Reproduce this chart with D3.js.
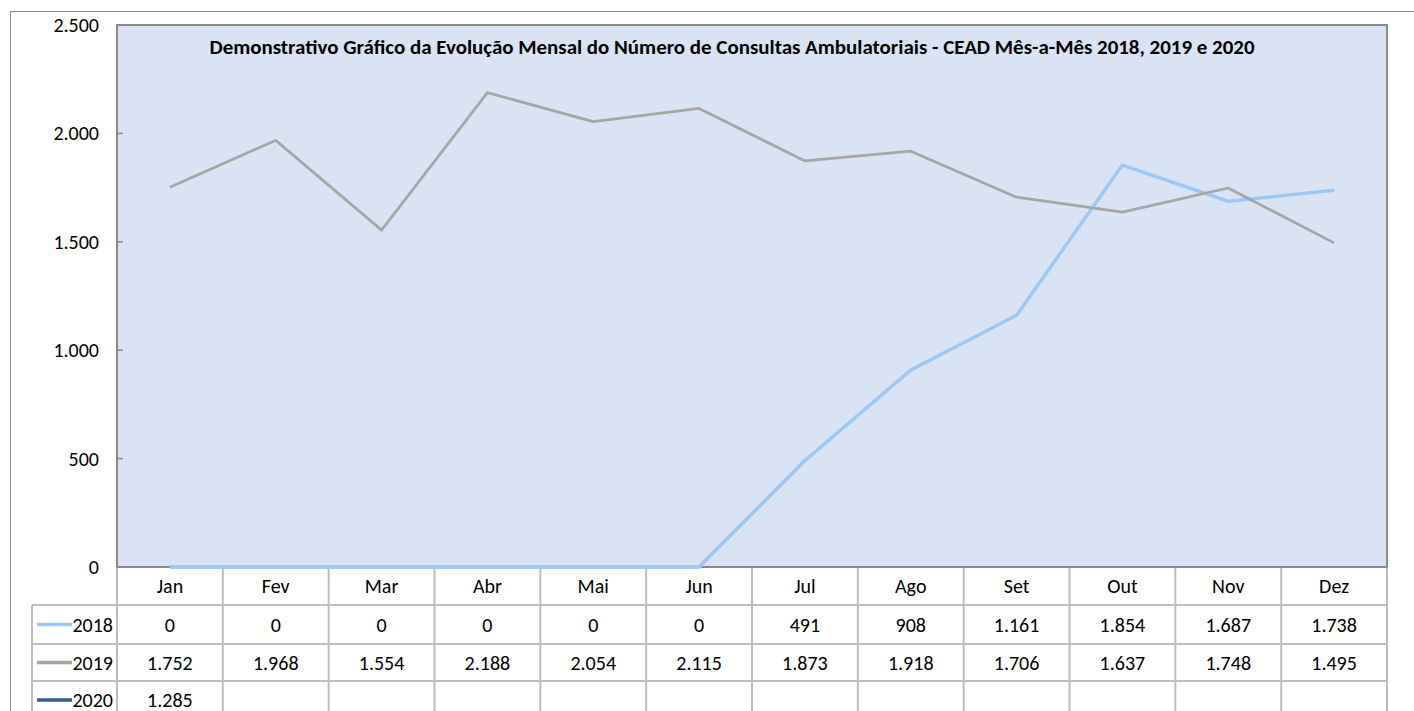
<html>
<head>
<style>
body { margin: 0; background: #fff; }
svg text { font-family: Carlito, "Liberation Sans Narrow", Lato, sans-serif; fill: #000; }
</style>
</head>
<body>
<div id="chart"></div>
<script src="https://d3js.org/d3.v7.min.js"></script>
<script>
var months = ["Jan","Fev","Mar","Abr","Mai","Jun","Jul","Ago","Set","Out","Nov","Dez"];
var years = ["2018","2019","2020"];
var v2018 = [0,0,0,0,0,0,491,908,1161,1854,1687,1738];
var v2019 = [1752,1968,1554,2188,2054,2115,1873,1918,1706,1637,1748,1495];
var v2020 = [1285];
var yTicks = [0,500,1000,1500,2000,2500];
var title = "Demonstrativo Gráfico da Evolução Mensal do Número de Consultas Ambulatoriais - CEAD Mês-a-Mês 2018, 2019 e 2020";

var colors = ["#9dc8f5", "#a5a5a5", "#335b8c"];
var series = [v2018, v2019, v2020];

var W = 1414, H = 711;
var plot = {left: 117, right: 1387, top: 25, bottom: 567};
var rowH = [38, 39, 37, 38];

var loc = d3.formatLocale({decimal: ",", thousands: ".", grouping: [3], currency: ["", ""]});
var fmt = loc.format(",d");

var svg = d3.select("#chart").append("svg")
    .attr("width", W)
    .attr("height", H);

// outer chart frame
svg.append("rect")
    .attr("x", 10.5).attr("y", 11.5)
    .attr("width", W).attr("height", H)
    .attr("fill", "#fff")
    .attr("stroke", "#8c8c8c");

var x = d3.scaleBand().domain(months).range([plot.left, plot.right]);
var y = d3.scaleLinear().domain([0, 2500]).range([plot.bottom, plot.top]);

// plot area
svg.append("rect")
    .attr("x", plot.left).attr("y", plot.top)
    .attr("width", plot.right - plot.left).attr("height", plot.bottom - plot.top)
    .attr("fill", "#dae3f3")
    .attr("stroke", "#8a8a8a")
    .attr("stroke-width", 2);

// y axis ticks (inside) + labels
var yAxis = svg.append("g").attr("class", "y axis");
yAxis.selectAll("line")
    .data(yTicks)
    .enter().append("line")
    .attr("x1", plot.left).attr("x2", plot.left + 6)
    .attr("y1", function(d) { return y(d); })
    .attr("y2", function(d) { return y(d); })
    .attr("stroke", "#8a8a8a")
    .attr("stroke-width", 1.5);
yAxis.selectAll("text")
    .data(yTicks)
    .enter().append("text")
    .attr("x", 99)
    .attr("y", function(d) { return y(d); })
    .attr("dy", "0.35em")
    .attr("text-anchor", "end")
    .style("font-size", "20px")
    .text(function(d) { return fmt(d); });

// title
svg.append("text")
    .attr("x", 732).attr("y", 47)
    .attr("dy", "0.35em")
    .attr("text-anchor", "middle")
    .attr("textLength", 1045)
    .attr("lengthAdjust", "spacingAndGlyphs")
    .style("font-size", "20px")
    .style("font-weight", "bold")
    .text(title);

// lines
var line = d3.line()
    .x(function(d, i) { return x(months[i]) + x.bandwidth() / 2; })
    .y(function(d) { return y(d); });

svg.selectAll(".series")
    .data(series)
    .enter().append("path")
    .attr("class", "series")
    .attr("d", function(d) { return d.length > 1 ? line(d) : null; })
    .attr("fill", "none")
    .attr("stroke", function(d, i) { return colors[i]; })
    .attr("stroke-width", function(d, i) { return i === 0 ? 3.5 : 2.75; })
    .attr("stroke-linejoin", "round");

// data table
var rowTop = [plot.bottom];
for (var r = 0; r < rowH.length; r++) rowTop.push(rowTop[r] + rowH[r]);
var grid = svg.append("g").attr("class", "table");
var gridColor = "#bdbdbd";

// vertical lines
var vx = [plot.left].concat(months.map(function(m) { return x(m) + x.bandwidth(); }));
grid.selectAll(".vl")
    .data(vx)
    .enter().append("line")
    .attr("x1", function(d) { return d; }).attr("x2", function(d) { return d; })
    .attr("y1", plot.bottom).attr("y2", H)
    .attr("stroke", gridColor).attr("stroke-width", 2);
grid.append("line")
    .attr("x1", 32).attr("x2", 32)
    .attr("y1", rowTop[1]).attr("y2", H)
    .attr("stroke", gridColor).attr("stroke-width", 2);
// horizontal lines
grid.selectAll(".hl")
    .data(rowTop.slice(1, 4))
    .enter().append("line")
    .attr("x1", 32).attr("x2", plot.right)
    .attr("y1", function(d) { return d; }).attr("y2", function(d) { return d; })
    .attr("stroke", gridColor).attr("stroke-width", 2);

// plot bottom border over table lines
svg.append("line")
    .attr("x1", plot.left).attr("x2", plot.right)
    .attr("y1", plot.bottom).attr("y2", plot.bottom)
    .attr("stroke", "#8a8a8a").attr("stroke-width", 2);

// 2018 flat part sits over the border
svg.append("path")
    .attr("d", line(v2018.slice(0, 7)))
    .attr("fill", "none")
    .attr("stroke", colors[0])
    .attr("stroke-width", 3.5);

// month header
grid.selectAll(".month")
    .data(months)
    .enter().append("text")
    .attr("x", function(d) { return x(d) + x.bandwidth() / 2; })
    .attr("y", (rowTop[0] + rowTop[1]) / 2)
    .attr("dy", "0.35em")
    .attr("text-anchor", "middle")
    .style("font-size", "20px")
    .text(function(d) { return d; });

// rows
years.forEach(function(yr, i) {
  var cy = (rowTop[i + 1] + rowTop[i + 2]) / 2;
  grid.append("line")
      .attr("x1", 37).attr("x2", 72)
      .attr("y1", cy).attr("y2", cy)
      .attr("stroke", colors[i]).attr("stroke-width", 3.5);
  grid.append("text")
      .attr("x", 113).attr("y", cy)
      .attr("dy", "0.35em")
      .attr("text-anchor", "end")
      .style("font-size", "20px")
      .text(yr);
  grid.selectAll(".v" + yr)
      .data(series[i])
      .enter().append("text")
      .attr("x", function(d, j) { return x(months[j]) + x.bandwidth() / 2; })
      .attr("y", cy)
      .attr("dy", "0.35em")
      .attr("text-anchor", "middle")
      .style("font-size", "20px")
      .text(function(d) { return fmt(d); });
});
</script>
</body>
</html>
